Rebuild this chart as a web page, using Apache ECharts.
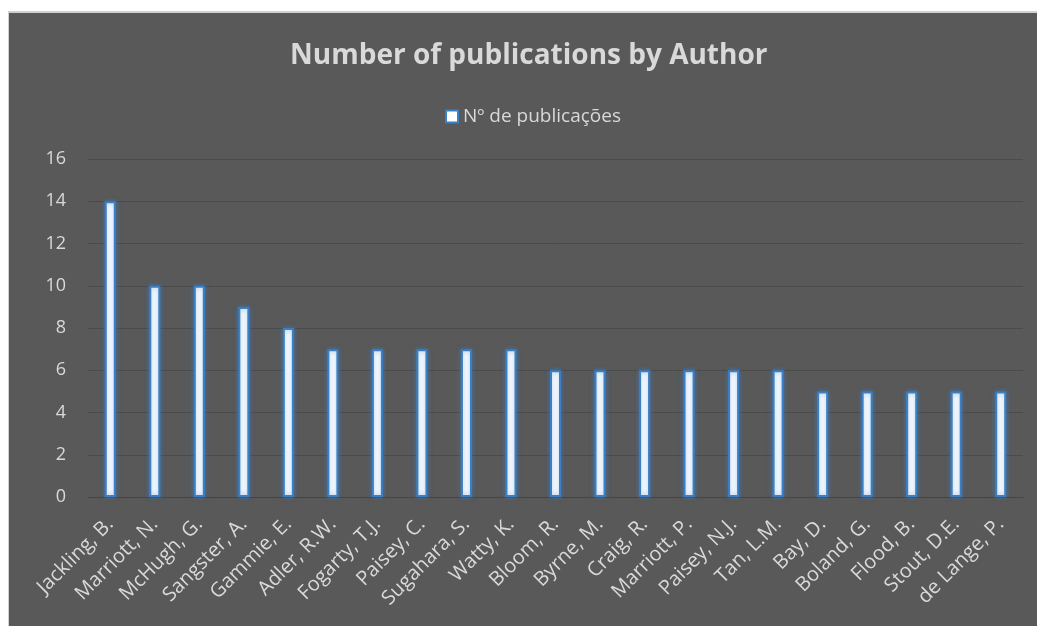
<!DOCTYPE html>
<html>
<head>
<meta charset="utf-8">
<script src="https://cdn.jsdelivr.net/npm/echarts@6/dist/echarts.min.js"></script>
<style>
  html, body { margin: 0; padding: 0; background: #ffffff; width: 1037px; height: 626px; overflow: hidden; }
  #chart { position: absolute; left: 8px; top: 11px; width: 1029px; height: 615px; border-top: 2px solid #d0d0d0; border-left: 1px solid #d0d0d0; box-sizing: border-box; }
</style>
</head>
<body>
<div id="chart"></div>
<script>
// Publication counts per author
const authors = [
  'Jackling, B.', 'Marriott, N.', 'McHugh, G.', 'Sangster, A.', 'Gammie, E.',
  'Adler, R.W.', 'Fogarty, T.J.', 'Paisey, C.', 'Sugahara, S.', 'Watty, K.',
  'Bloom, R.', 'Byrne, M.', 'Craig, R.', 'Marriott, P.', 'Paisey, N.J.',
  'Tan, L.M.', 'Bay, D.', 'Boland, G.', 'Flood, B.', 'Stout, D.E.', 'de Lange, P.'
];
const publications = [14, 10, 10, 9, 8, 7, 7, 7, 7, 7, 6, 6, 6, 6, 6, 6, 5, 5, 5, 5, 5];
const seriesName = 'Nº de publicações';
const titleText = 'Number of publications by Author';

const font = '"Open Sans", "Noto Sans", sans-serif';
const textColor = '#d9d9d9';

const chart = echarts.init(document.getElementById('chart'));
chart.setOption({
  backgroundColor: '#595959',
  animation: false,
  title: {
    text: titleText,
    left: 276,
    top: 24,
    textStyle: { color: textColor, fontFamily: font, fontSize: 28, fontWeight: 'bold' }
  },
  legend: {
    data: [{ name: seriesName, icon: 'rect' }],
    top: 89,
    left: 431,
    itemWidth: 12,
    itemHeight: 12,
    itemGap: 4,
    textStyle: { color: textColor, fontFamily: font, fontSize: 19 }
  },
  grid: { left: 79, right: 14, top: 146, bottom: 129, containLabel: false },
  xAxis: {
    type: 'category',
    data: authors,
    axisLine: { show: true, lineStyle: { color: '#454545', width: 1 } },
    axisTick: { show: false },
    axisLabel: {
      color: textColor, fontFamily: font, fontSize: 20,
      rotate: 45, interval: 0, margin: 24
    }
  },
  yAxis: {
    type: 'value',
    min: 0, max: 16, interval: 2,
    axisLine: { show: false },
    axisTick: { show: false },
    splitLine: { lineStyle: { color: '#4b4b4b', width: 1 } },
    axisLabel: { color: textColor, fontFamily: font, fontSize: 18, margin: 22 }
  },
  series: [{
    name: seriesName,
    type: 'bar',
    data: publications,
    barWidth: 11,
    itemStyle: {
      color: '#ffffff',
      borderColor: '#3a80c6',
      borderWidth: 2,
      shadowColor: 'rgba(60,130,210,0.6)',
      shadowBlur: 5
    }
  }]
});
</script>
</body>
</html>
